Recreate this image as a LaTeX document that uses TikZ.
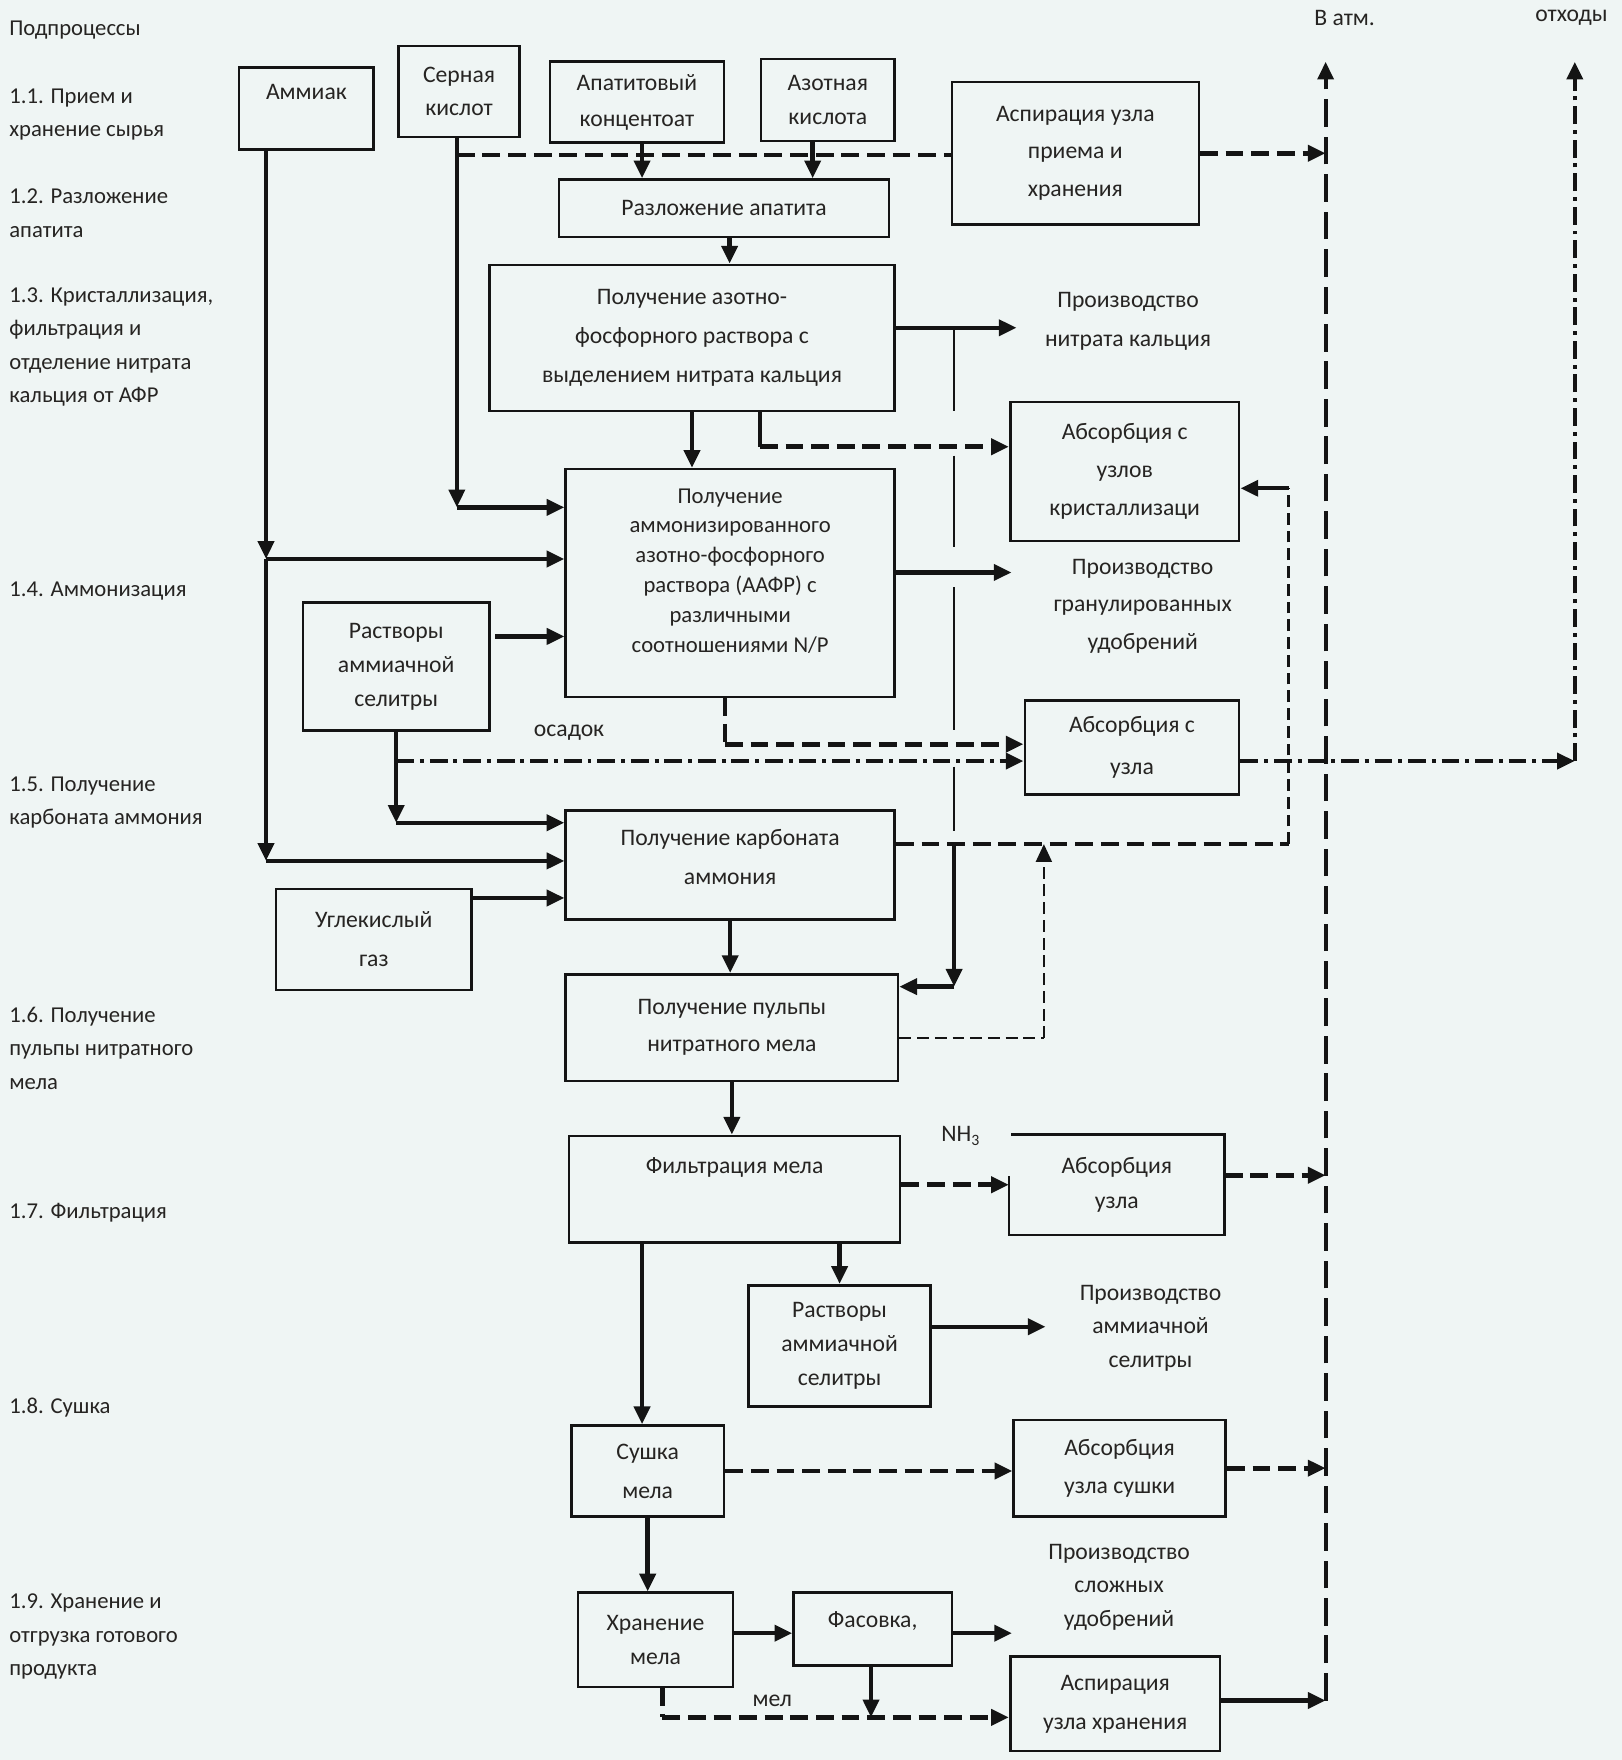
\documentclass[tikz,border=0pt]{standalone}
\usepackage{fontspec}
\setmainfont{Carlito}
\usetikzlibrary{arrows.meta,calc}
\definecolor{bgc}{RGB}{239,245,244}
\definecolor{ink}{RGB}{20,20,20}
\definecolor{txt}{RGB}{38,36,34}
\newcommand\fsz[2]{\fontsize{#1}{#2}\selectfont}
\tikzset{
  x=0.02cm, y=-0.02cm,
  wh/.style 2 args={minimum width={#1*0.02cm}, minimum height={#2*0.02cm}},
  box/.style={draw=ink, line width=1.3pt, inner sep=0pt, align=center, text=txt, font=\fsz{12}{19.8}},
  lbl/.style={inner sep=0pt, align=center, text=txt, font=\fsz{12}{19.8}},
  side/.style={inner sep=0pt, align=left, anchor=west, text=txt, font=\fsz{11.5}{17}},
  tip/.style={-{Triangle[length=9pt,width=8pt]}},
  flow/.style={draw=ink, line width=2.2pt, tip},
  solidl/.style={draw=ink, line width=2.2pt},
  thinl/.style={draw=ink, line width=0.9pt},
  dsh/.style={draw=ink, line width=2.4pt, dash pattern=on 9pt off 4pt},
  dshthin/.style={draw=ink, line width=1.2pt, dash pattern=on 6pt off 3pt},
  atmline/.style={draw=ink, line width=2pt, dash pattern=on 14pt off 5pt},
  dd/.style={draw=ink, line width=2.2pt, dash pattern=on 9pt off 3pt on 2pt off 3pt},
}
\begin{document}
\begin{tikzpicture}
\fill[bgc] (0,0) rectangle (1445,1568);
\useasboundingbox (0,0) rectangle (1445,1568);

% ---------- left column ----------
\node[side] (s0) at (8,27) {Подпроцессы};
\node[side] (s1) at (8,102) {1.1. Прием и\\хранение сырья};
\node[side] (s2) at (8,190) {1.2. Разложение\\апатита};
\node[side] (s3) at (8,309) {1.3. Кристаллизация,\\фильтрация и\\отделение нитрата\\кальция от АФР};
\node[side] (s4) at (8,527) {1.4. Аммонизация};
\node[side] (s5) at (8,715) {1.5. Получение\\карбоната аммония};
\node[side] (s6) at (8,934) {1.6. Получение\\пульпы нитратного\\мела};
\node[side] (s7) at (8,1080) {1.7. Фильтрация};
\node[side] (s8) at (8,1254) {1.8. Сушка};
\node[side] (s9) at (8,1458) {1.9. Хранение и\\отгрузка готового\\продукта};

% ---------- boxes ----------
\node[box, wh={120}{73}] (amm) at (273,96.5) {};
\node[lbl] (ammt) at (273,82) {Аммиак};
\node[box, wh={108}{81}, font=\fsz{12}{16.4}] (ser) at (409,81.5) {Серная\\кислот};
\node[box, wh={155}{72}, font=\fsz{12}{18.1}] (apat) at (567.5,91) {Апатитовый\\концентоат};
\node[box, wh={119}{73}, font=\fsz{12}{17}] (azot) at (737.5,89) {Азотная\\кислота};
\node[box, wh={220}{127}, font=\fsz{12}{19}] (asp1) at (958,136.5) {Аспирация узла\\приема и\\хранения};
\node[box, wh={294}{51}] (razl) at (645,185.5) {Разложение апатита};
\node[box, wh={361}{130}] (afr) at (616.5,301) {Получение азотно-\\фосфорного раствора с\\выделением нитрата кальция};
\node[lbl] (prodNC) at (1005,286.5) {Производство\\нитрата кальция};
\node[box, wh={204}{124}, font=\fsz{12}{19.3}] (abs1) at (1002,420) {Абсорбция с\\узлов\\кристаллизаци};
\node[box, wh={293}{203}] (aafr) at (650.5,519.5) {};
\node[lbl, font=\fsz{11.5}{15.1}] (aafrt) at (650.5,508.5) {Получение\\аммонизированного\\азотно-фосфорного\\раствора (ААФР) с\\различными\\соотношениями N/P};
\node[lbl, font=\fsz{12}{19}] (prodGr) at (1018,540) {Производство\\гранулированных\\удобрений};
\node[box, wh={166}{114}, font=\fsz{12}{17.3}] (rast1) at (353,594) {Растворы\\аммиачной\\селитры};
\node[box, wh={191}{84}, font=\fsz{12}{21}] (abs2) at (1008.5,666) {Абсорбция с\\узла};
\node[lbl] (osadok) at (507,653) {осадок};
\node[box, wh={293}{97}] (karb) at (650.5,770.5) {};
\node[lbl] (karbt) at (650.5,763.5) {Получение карбоната\\аммония};
\node[box, wh={174}{90}] (ugl) at (333,837) {Углекислый\\газ};
\node[box, wh={296}{95}, font=\fsz{12}{18.7}] (pulp) at (652,915.5) {Получение пульпы\\нитратного мела};
\node[lbl] (nh3) at (856,1012) {NH\textsubscript{3}};
\node[box, wh={295}{95}] (filt) at (654.5,1059.5) {};
\node[lbl] (filtt) at (654.5,1040) {Фильтрация мела};
\node[box, draw=none, wh={190}{87}, font=\fsz{12}{18.1}] (abs3) at (995,1055.5) {Абсорбция\\узла};
\draw[ink, line width=1.3pt] ($(abs3.north west)+(0,37)$) -- (abs3.south west) -- (abs3.south east) -- (abs3.north east) -- ($(abs3.north west)+(2,0)$);
\node[box, wh={162}{108}, font=\fsz{12}{17.3}] (rast2) at (748,1199) {Растворы\\аммиачной\\селитры};
\node[lbl, font=\fsz{12}{17}] (prodAS) at (1025,1183) {Производство\\аммиачной\\селитры};
\node[box, wh={136}{81}] (sush) at (577,1310.5) {Сушка\\мела};
\node[box, wh={189}{86}, font=\fsz{12}{19.3}] (abs4) at (997.5,1308) {Абсорбция\\узла сушки};
\node[lbl, font=\fsz{12}{17}] (prodSl) at (997,1414) {Производство\\сложных\\удобрений};
\node[box, wh={138}{84}, font=\fsz{12}{17}] (hran) at (584,1461) {Хранение\\мела};
\node[box, wh={141}{65}] (fas) at (777.5,1451.5) {};
\node[lbl] (fast) at (777.5,1444) {Фасовка,};
\node[box, wh={187}{84}] (asp2) at (993.5,1518) {Аспирация\\узла хранения};
\node[lbl] (mel) at (688,1515) {мел};
\node[lbl] (atm) at (1198,16) {В атм.};
\node[lbl] (waste) at (1400,16) {отходы};

% ---------- coordinates ----------
\coordinate (atmtop) at (1181,55);
\coordinate (atmbot) at (1181,1515);
\coordinate (wtop) at (1403,55);
\coordinate (w1) at (1403,678);

% ---------- ammonia trunk ----------
\coordinate (a1) at (237,498);
\coordinate (a2) at (237,767);
\draw[flow] (amm.south -| a1) -- (a1);
\draw[flow] (a1) -- (a2);
\draw[flow] (a1) -- (a1 -| aafr.west);
\draw[flow] (a2) -- (a2 -| karb.west);

% ---------- sulfuric acid ----------
\coordinate (sa) at (407,452);
\draw[flow] (ser.south -| sa) -- (sa);
\draw[flow] (sa) -- (sa -| aafr.west);
\coordinate (g1) at (407,138);
\draw[dsh] (g1) -- (g1 -| asp1.west);

% ---------- raw materials to decomposition ----------
\coordinate (ap) at ($(apat.south)+(4.5,0)$);
\draw[flow] (ap) -- (ap |- razl.north);
\coordinate (az) at ($(azot.south)+(-13.5,0)$);
\draw[flow] (az) -- (az |- razl.north);
\draw[dsh,tip] (asp1.east) -- (asp1.east -| atmtop);
\coordinate (rz) at ($(razl.south)+(5,0)$);
\draw[flow] (rz) -- (rz |- afr.north);

% ---------- AFP ----------
\coordinate (nc) at (850,292);
\draw[flow, shorten >=0.5cm] (afr.east |- nc) -- (prodNC.west |- nc);
\draw[thinl] (nc) -- (850,366);
\draw[thinl] (850,406) -- (850,487);
\draw[thinl] (850,523) -- (850,650);
\draw[thinl] (850,683) -- (850,740);
\draw[flow] (afr.south) -- (afr.south |- aafr.north);
\coordinate (c1) at (677,398);
\draw[solidl] (afr.south -| c1) -- (c1);
\draw[dsh,tip] (c1) -- (c1 -| abs1.west);

% ---------- AAFP ----------
\coordinate (gr) at (850,510);
\draw[flow, shorten >=0.74cm] (aafr.east |- gr) -- (prodGr.west |- gr);
\coordinate (r1) at (441,567);
\draw[flow] (r1) -- (r1 -| aafr.west);
\coordinate (c2) at (646,663);
\draw[dsh] (aafr.south -| c2) -- (c2);
\draw[dsh,tip] (c2) -- (c2 -| abs2.west);
\coordinate (r2) at (353,733);
\draw[flow] (rast1.south) -- (r2);
\draw[flow] (r2) -- (r2 -| karb.west);
\coordinate (o1) at (353,678);
\draw[dd,tip] (o1) -- (o1 -| abs2.west);
\draw[dd,tip] (abs2.east |- w1) -- (w1);
\draw[dd,tip] (w1) -- (wtop);

% ---------- carbonate ----------
\coordinate (u1) at (420,800);
\draw[flow] (ugl.east |- u1) -- (u1 -| karb.west);
\draw[flow] (karb.south) -- (karb.south |- pulp.north);
\coordinate (k1) at (850,752);
\coordinate (k2) at (850,879);
\coordinate (k3) at (1148,752);
\coordinate (k4) at (1148,435);
\draw[dsh] (karb.east |- k1) -- (k3);
\draw[dshthin] (k3) -- (k4);
\draw[flow] (k4) -- (k4 -| abs1.east);
\draw[flow] (k1) -- (k2);
\draw[flow] (k2) -- (k2 -| pulp.east);

% ---------- pulp ----------
\coordinate (p1) at (930,925);
\draw[dshthin] (pulp.east |- p1) -- (p1);
\draw[dshthin,tip] (p1) -- (p1 |- k1);
\draw[flow] (pulp.south) -- (pulp.south |- filt.north);

% ---------- filtration ----------
\draw[dsh,tip] (filt.east |- abs3.west) -- (abs3.west);
\coordinate (f2) at (1181,1047);
\draw[dsh,tip] (abs3.east |- f2) -- (f2);
\coordinate (fs) at ($(sush.north)+(-5,0)$);
\draw[flow] (filt.south -| fs) -- (fs);
\draw[flow] (filt.south -| rast2.north) -- (rast2.north);
\coordinate (r3) at (829,1182);
\draw[flow, shorten >=0.6cm] (rast2.east |- r3) -- (prodAS.west |- r3);

% ---------- drying and storage ----------
\draw[dsh,tip] (sush.east) -- (sush.east -| abs4.west);
\draw[dsh,tip] (abs4.east) -- (abs4.east -| atmtop);
\draw[flow] (sush.south) -- (sush.south |- hran.north);
\coordinate (h1) at (653,1455);
\draw[flow] (hran.east |- h1) -- (h1 -| fas.west);
\draw[flow, shorten >=0.64cm] (fas.east |- h1) -- (prodSl.west |- h1);
\coordinate (m1) at (590,1530);
\draw[dsh] (hran.south -| m1) -- (m1);
\draw[dsh,tip] (m1) -- (m1 -| asp2.west);
\coordinate (m2) at (776,1530);
\draw[flow] (fas.south -| m2) -- (m2);
\draw[flow] (asp2.east |- atmbot) -- (atmbot);
\draw[atmline,tip] (atmbot) -- (atmtop);
\end{tikzpicture}
\end{document}
